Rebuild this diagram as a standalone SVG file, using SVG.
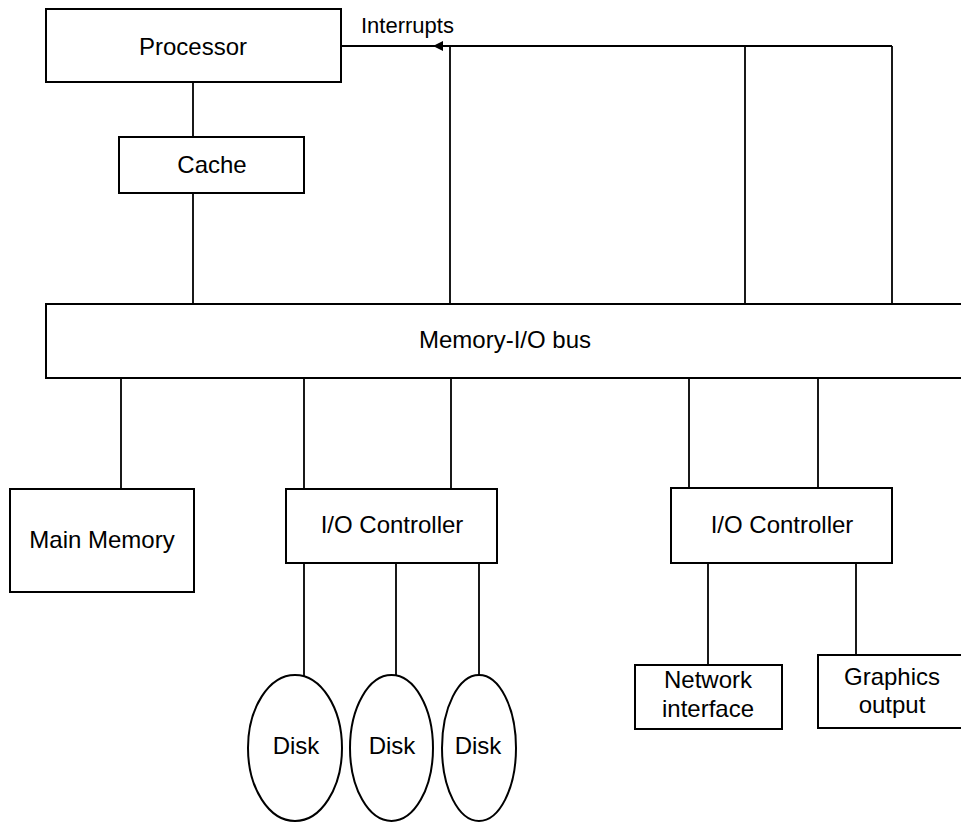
<svg xmlns="http://www.w3.org/2000/svg" width="961" height="823" viewBox="0 0 961 823">
  <style>
    .box { fill: #fff; stroke: #000; stroke-width: 2; }
    .wire { fill: none; stroke: #000; stroke-width: 1.8; }
    .lbl { font-family: "Liberation Sans", Arial, sans-serif; font-size: 24px; fill: #000; text-anchor: middle; }
    .small { font-family: "Liberation Sans", Arial, sans-serif; font-size: 22px; fill: #000; }
  </style>
  <defs>
    <marker id="arrow" markerWidth="10" markerHeight="8" refX="0" refY="4" orient="auto" markerUnits="userSpaceOnUse">
      <path d="M0,4 L10,0 L10,8 Z" fill="#000"/>
    </marker>
  </defs>
  <rect width="961" height="823" fill="#fff"/>

  <!-- connectors -->
  <g id="connectors">
    <!-- interrupt lines -->
    <line class="wire" x1="892" y1="46" x2="341" y2="46"/>
    <path d="M433,46 L443,41 L443,51 Z" fill="#000"/>
    <line class="wire" x1="450" y1="46" x2="450" y2="304"/>
    <line class="wire" x1="745" y1="46" x2="745" y2="304"/>
    <line class="wire" x1="892" y1="46" x2="892" y2="304"/>
    <!-- processor / cache / bus -->
    <line class="wire" x1="193" y1="82" x2="193" y2="137"/>
    <line class="wire" x1="193" y1="193" x2="193" y2="304"/>
    <!-- bus to devices -->
    <line class="wire" x1="121" y1="378" x2="121" y2="489"/>
    <line class="wire" x1="304" y1="378" x2="304" y2="489"/>
    <line class="wire" x1="451" y1="378" x2="451" y2="489"/>
    <line class="wire" x1="689" y1="378" x2="689" y2="488"/>
    <line class="wire" x1="818" y1="378" x2="818" y2="488"/>
    <!-- controller 1 to disks -->
    <line class="wire" x1="304" y1="563" x2="304" y2="677"/>
    <line class="wire" x1="396" y1="563" x2="396" y2="676"/>
    <line class="wire" x1="479" y1="563" x2="479" y2="675"/>
    <!-- controller 2 to devices -->
    <line class="wire" x1="708" y1="563" x2="708" y2="665"/>
    <line class="wire" x1="856" y1="563" x2="856" y2="655"/>
  </g>

  <g id="interrupts-label">
    <text class="small" x="361" y="33">Interrupts</text>
  </g>

  <g id="processor">
    <rect class="box" x="46" y="9" width="295" height="73"/>
    <text class="lbl" x="193" y="55">Processor</text>
  </g>

  <g id="cache">
    <rect class="box" x="119" y="137" width="185" height="56"/>
    <text class="lbl" x="212" y="173">Cache</text>
  </g>

  <g id="bus">
    <path class="box" d="M970,304 L46,304 L46,378 L970,378"/>
    <text class="lbl" x="505" y="348">Memory-I/O bus</text>
  </g>

  <g id="main-memory">
    <rect class="box" x="10" y="489" width="184" height="103"/>
    <text class="lbl" x="102" y="548">Main Memory</text>
  </g>

  <g id="io-controller-1">
    <rect class="box" x="286" y="489" width="211" height="74"/>
    <text class="lbl" x="392" y="533">I/O Controller</text>
  </g>

  <g id="disk-1">
    <ellipse class="box" cx="295" cy="748" rx="47" ry="73"/>
    <text class="lbl" x="296" y="754">Disk</text>
  </g>
  <g id="disk-2">
    <ellipse class="box" cx="391.5" cy="748" rx="41.5" ry="73"/>
    <text class="lbl" x="392" y="754">Disk</text>
  </g>
  <g id="disk-3">
    <ellipse class="box" cx="479" cy="748" rx="37" ry="73"/>
    <text class="lbl" x="478" y="754">Disk</text>
  </g>

  <g id="io-controller-2">
    <rect class="box" x="671" y="488" width="221" height="75"/>
    <text class="lbl" x="782" y="533">I/O Controller</text>
  </g>

  <g id="network-interface">
    <rect class="box" x="635" y="665" width="147" height="64"/>
    <text class="lbl" x="708" y="688">Network</text>
    <text class="lbl" x="708" y="717">interface</text>
  </g>

  <g id="graphics-output">
    <path class="box" d="M970,655 L818,655 L818,728 L970,728"/>
    <text class="lbl" x="892" y="685">Graphics</text>
    <text class="lbl" x="892" y="713">output</text>
  </g>
</svg>
